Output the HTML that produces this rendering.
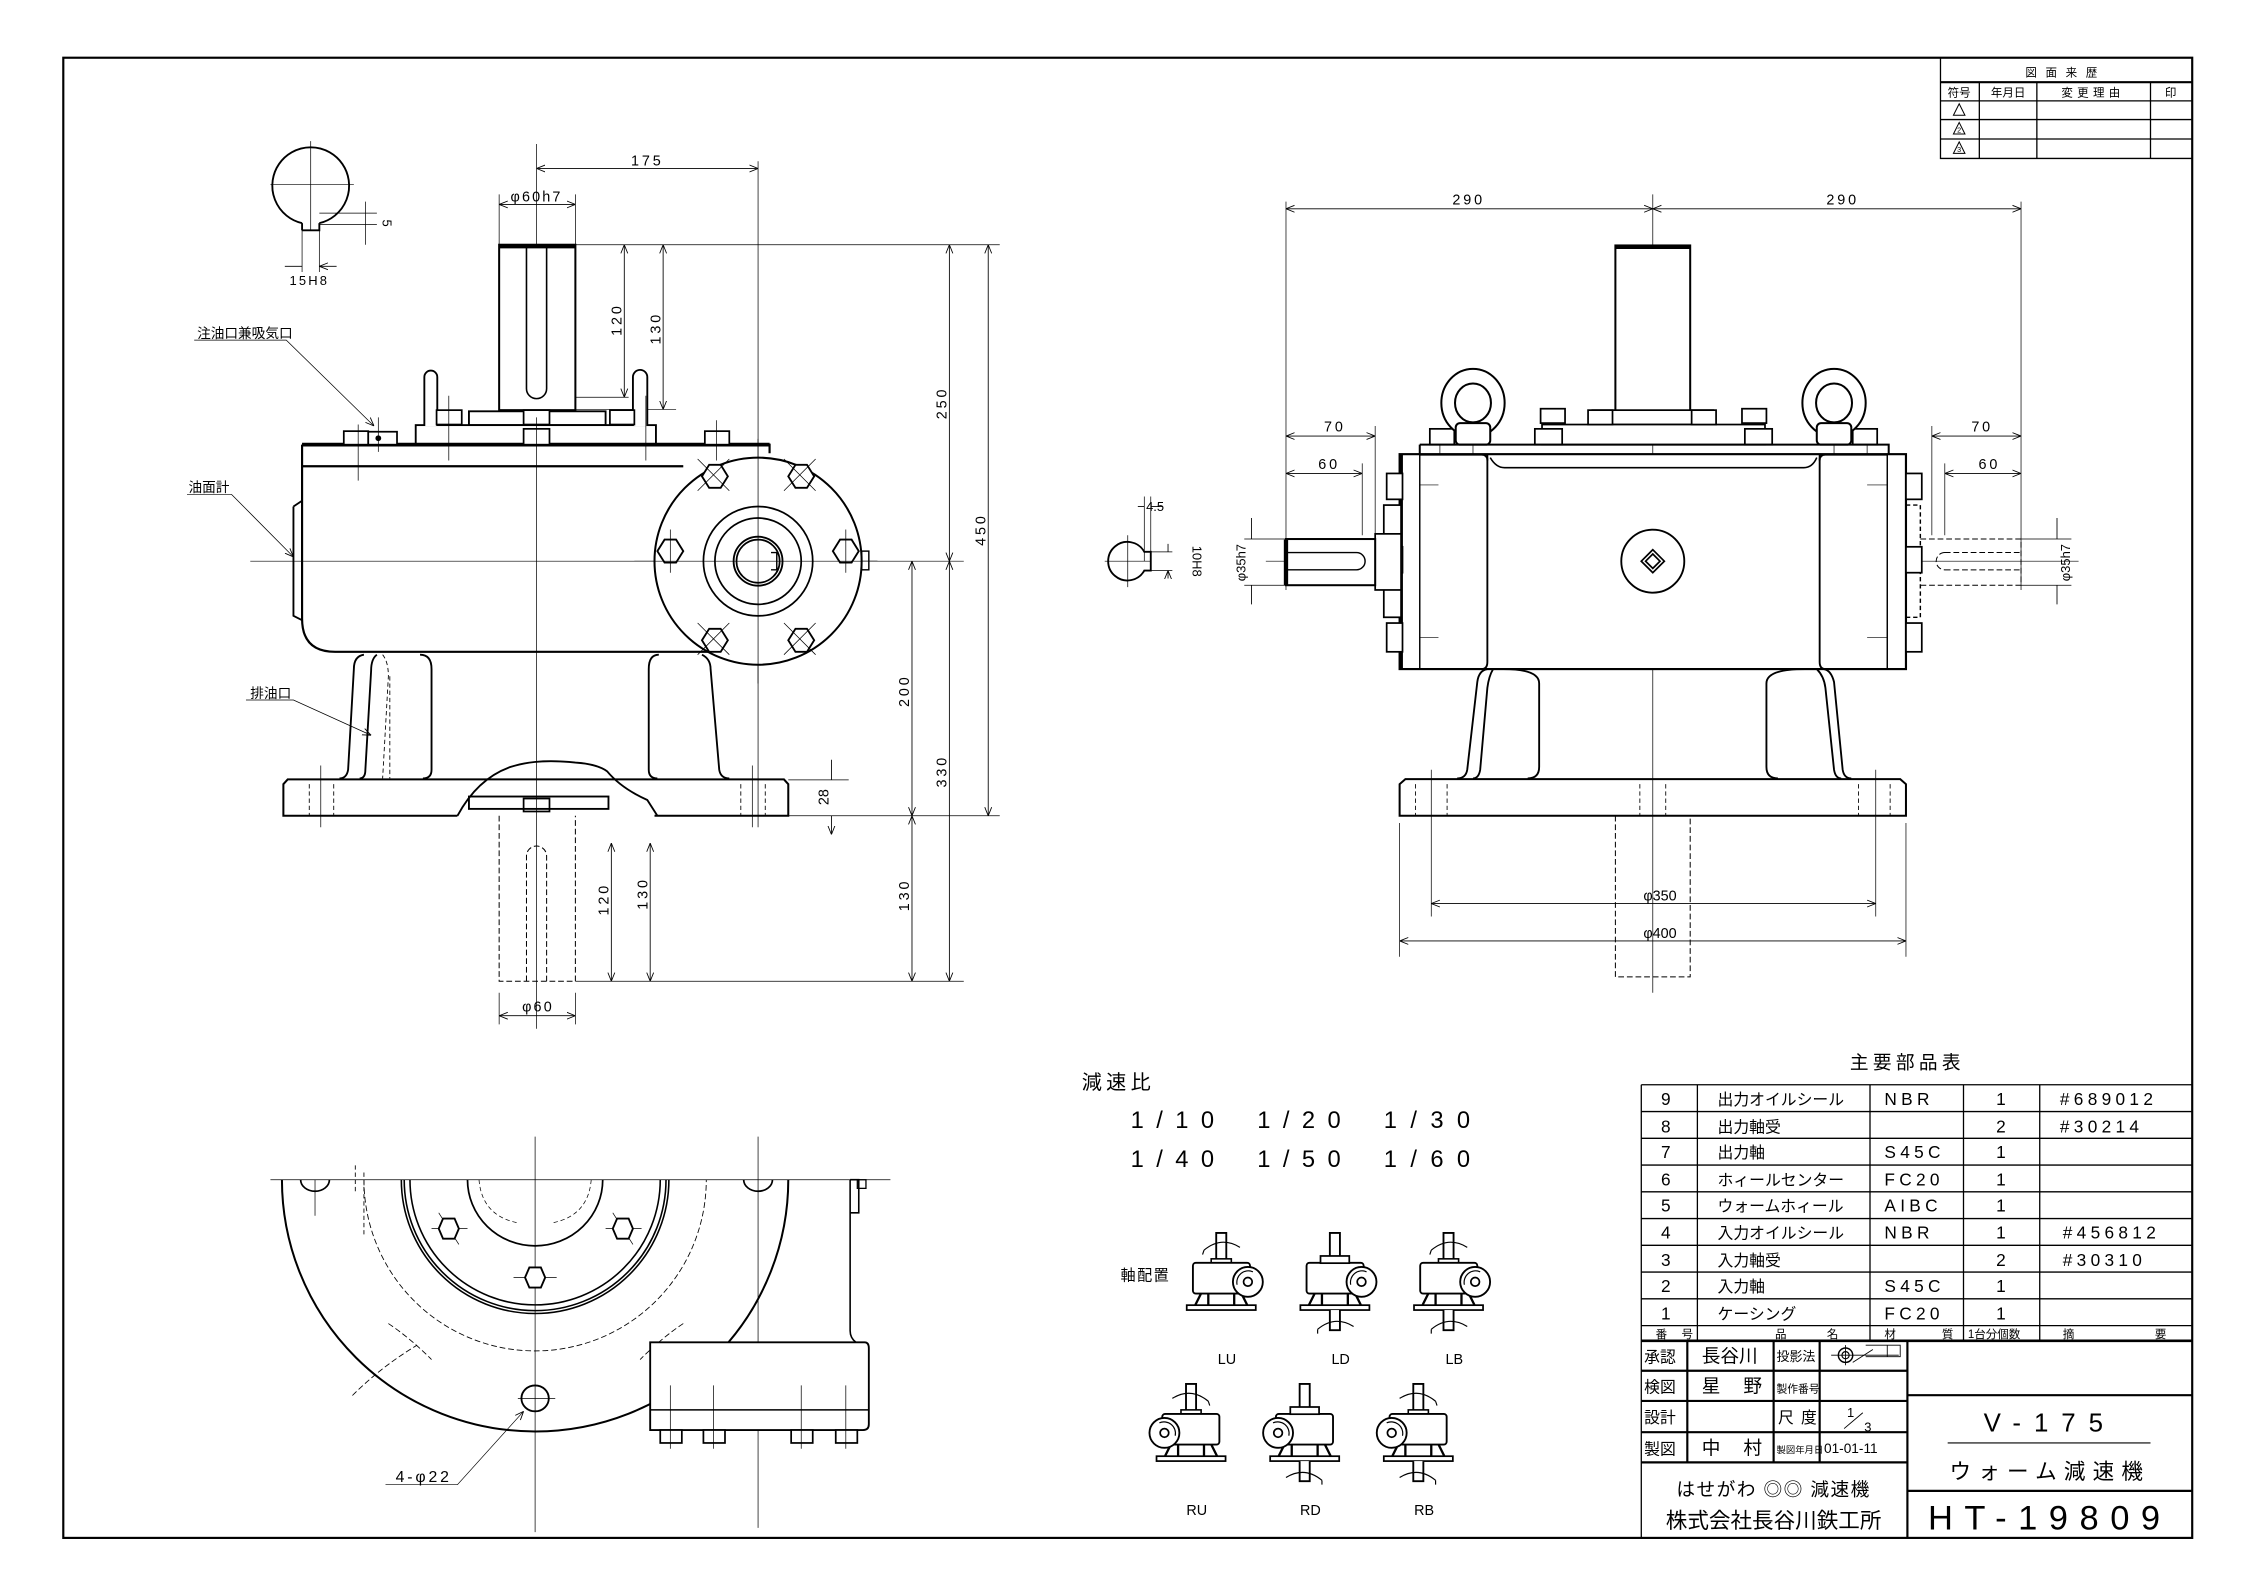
<!DOCTYPE html>
<html><head><meta charset="utf-8">
<style>
html,body{margin:0;padding:0;background:#fff}
svg{display:block}
text{font-family:"Liberation Sans","Noto Sans CJK JP",sans-serif;fill:#000}
</style></head><body>
<svg width="2244" height="1587" viewBox="0 0 1560 1103" xmlns="http://www.w3.org/2000/svg">
<defs>
<marker id="a" viewBox="0 0 10 10" refX="10" refY="5" markerWidth="6" markerHeight="6" orient="auto-start-reverse" markerUnits="userSpaceOnUse">
<path d="M0,1 L10,5 L0,9" fill="none" stroke="#000" stroke-width="1"/></marker>
<g id="ic">
 <path d="M-3.5,-13 V-34 H3.5 V-13" fill="#fff" stroke="#000" stroke-width="1.3"/>
 <rect x="-7" y="-16" width="14" height="3" fill="#fff" stroke="#000" stroke-width="1.1"/>
 <rect x="-19.7" y="-13.2" width="39.7" height="21.3" rx="2" fill="#fff" stroke="#000" stroke-width="1.3"/>
 <path d="M-14,8 L-18,16 M14,8 L18,16 M-9,8 V16 M9,8 V16" stroke="#000" stroke-width="1.6"/>
 <rect x="-24" y="16.2" width="48" height="3.4" fill="#fff" stroke="#000" stroke-width="1.2"/>
 <circle cx="18.5" cy="0" r="10.4" fill="#fff" stroke="#000" stroke-width="1.3"/>
 <path d="M11,2 A8,8 0 0 1 22,-7" fill="none" stroke="#000" stroke-width="0.8"/>
 <circle cx="18.5" cy="0" r="3" fill="none" stroke="#000" stroke-width="1.2"/>
</g>
<g id="icU"><path d="M-12,-22 Q0,-32 13,-24 M-12,-22 l-1,3" fill="none" stroke="#000" stroke-width="0.8"/></g>
<g id="icD"><path d="M-3.5,19.6 V33.6 H3.5 V19.6" fill="#fff" stroke="#000" stroke-width="1.3"/><path d="M-12,33 Q0,23 13,31 M-12,33 l0,3" fill="none" stroke="#000" stroke-width="0.8"/></g>
<g id="icT"><rect x="-10" y="-18" width="20" height="5" fill="#fff" stroke="#000" stroke-width="1.2"/></g>
</defs>
<rect width="1560" height="1103" fill="#fff"/>
<g fill="none" stroke="#000">
<rect x="44" y="40" width="1480" height="1029" stroke-width="1.5"/>
<path d="M1349,40 V110 H1524 M1349,57 H1524 M1349,70 H1524 M1349,83 H1524 M1349,96.5 H1524 M1376,57 V110 M1416,57 V110 M1495,57 V110" stroke-width="0.9"/>
<path d="M1349,57 H1524" stroke-width="1.4"/>
<path d="M1358,80 l4,-8 l4,8z M1358,93 l4,-8 l4,8z M1358,106.5 l4,-8 l4,8z" stroke-width="0.7"/>

<!-- FRONT VIEW -->
<g stroke-width="0.5">
<path d="M373,100 V715 M174,390 H610 M527,112 V575 M216,98 V160 M188,128 H246"/>
<path d="M400,170 H695 M536,390 H670 M548,567 H695 M400,682 H670 M548,542 H590"/>
<path d="M347,135 V170 M400,135 V170 M400,276 H437 M400,284.5 H470 M347,690 V712 M400,690 V712"/>
<path d="M210,160 V189 M222,160 V189 M222,148 H262 M222,156 H262 M254,140 V170"/>
</g>
<g stroke-width="0.6" marker-start="url(#a)" marker-end="url(#a)">
<path d="M373,117 H527"/><path d="M347,142 H400"/><path d="M434,170 V276"/><path d="M461,170 V284.5"/>
<path d="M660,170 V390"/><path d="M687,170 V567"/><path d="M634,390 V567"/><path d="M660,390 V682"/><path d="M634,567 V682"/>
<path d="M425,586 V682"/><path d="M452,586 V682"/><path d="M347,706 H400"/>
</g>
<path d="M578,528 V542 M578,567 V580" stroke-width="0.6" marker-end="url(#a)"/>
<path d="M198,185 H210 M234,185 H222" stroke-width="0.6" marker-end="url(#a)"/>
<path d="M210,155 A26.7,26.7 0 1 1 222,155 M210,155 V160 M222,155 V160 H210" stroke-width="1.3"/>
<rect x="347" y="170" width="53" height="115" fill="#fff" stroke-width="1.4"/>
<path d="M347,171 H400" stroke-width="3"/>
<path d="M366,170 V270 A7,7 0 0 0 380,270 V170" stroke-width="1.1"/>
<rect x="326" y="285.8" width="95" height="9.6" fill="#fff" stroke-width="1.3"/>
<rect x="289" y="295.4" width="167" height="13.6" fill="#fff" stroke-width="1.3"/>
<path d="M295,296 V262 A4.5,4.5 0 0 1 304,262 V296 M440,296 V262 A5,5 0 0 1 450,262 V296" fill="#fff" stroke-width="1.3"/>
<path d="M210,309 H535 V315 M210,324 H475" stroke-width="1.5"/>
<path d="M210,309 V430 Q210,453 233,453 H500" stroke-width="1.5"/>
<path d="M210,309 H535" stroke-width="2.6"/>
<path d="M204,352 L210,348 M204,352 V428 L210,431" stroke-width="1.3"/>
<g fill="#fff" stroke-width="1.2">
<rect x="239" y="299.6" width="17" height="9.4"/><rect x="256" y="300" width="20" height="9"/>
<rect x="490" y="299.6" width="17" height="9.4"/>
<rect x="364" y="298" width="18" height="11"/><rect x="364" y="285" width="18" height="10"/>
<rect x="303.5" y="285" width="17.5" height="10"/><rect x="424" y="285" width="17" height="10"/>
</g>
<circle cx="263" cy="304.5" r="2" fill="#000" stroke="none"/>
<g stroke-width="0.5"><path d="M249,295 V334 M263,290 V314 M312,275 V320 M449,275 V320 M373,290 V310 M498,292 V320"/></g>
<circle cx="527" cy="390" r="72" fill="#fff" stroke-width="1.4"/>
<circle cx="527" cy="390" r="38" stroke-width="1.2"/>
<circle cx="527" cy="390" r="30" stroke-width="1.2"/>
<circle cx="527" cy="390" r="17" stroke-width="1.3"/>
<circle cx="527" cy="390" r="15" stroke-width="1.2"/>
<path d="M536,384 h4 v12 h-4" stroke-width="1"/>
<rect x="599" y="383" width="5" height="13" stroke-width="1"/>
<g stroke-width="1.3" fill="#fff">
<path d="M457,383 l5,-8 h8 l5,8 l-5,8 h-8z"/><path d="M579,383 l5,-8 h8 l5,8 l-5,8 h-8z"/>
<path d="M488,331 l5,-8 h8 l5,8 l-5,8 h-8z"/><path d="M548,331 l5,-8 h8 l5,8 l-5,8 h-8z"/>
<path d="M488,445 l5,-8 h8 l5,8 l-5,8 h-8z"/><path d="M548,445 l5,-8 h8 l5,8 l-5,8 h-8z"/>
</g>
<g stroke-width="0.5"><path d="M527,305 V475 M441,390 H610 M466,368 V398 M588,368 V398 M485,319 l22,22 M507,319 l-22,22 M545,319 l22,22 M567,319 l-22,22 M485,433 l22,22 M507,433 l-22,22 M545,433 l22,22 M567,433 l-22,22"/></g>
<g stroke-width="1.3">
<path d="M253,455 Q246,456 246,465 L242,535 Q241,541 236,541"/>
<path d="M262,455 Q258,458 258,466 L254,535 Q254,541 250,541"/>
<path d="M292,455 Q300,455 300,465 V535 Q300,541 294,541"/>
<path d="M458,455 Q451,455 451,465 V535 Q451,541 457,541"/>
<path d="M488,455 Q494,458 494,465 L500,535 Q501,541 507,541"/>
</g>
<path d="M266,455 Q270,460 270,470 L266,541 M271,470 V541" stroke-width="0.6" stroke-dasharray="3,2"/>
<path d="M318,567 H197 V545 L200,541.7 H545 L548,545 V567 H455" stroke-width="1.4"/>
<path d="M318,567 Q332,541 355,533 Q373,527 400,530 Q415,531 422,536 Q432,548 450,556 L457,567" stroke-width="1.3"/>
<rect x="326" y="553.6" width="97" height="8.6" stroke-width="1.3"/>
<rect x="364" y="555" width="18" height="9" stroke-width="1.2"/>
<path d="M215,545 V567 M232,545 V567 M515,545 V567 M532,545 V567" stroke-width="0.6" stroke-dasharray="3,2"/>
<path d="M223,532 V575 M523,532 V575" stroke-width="0.5"/>
<path d="M347,567 V682 H400 V567 M366,682 V595 A7,7 0 0 1 380,595 V682" stroke-width="0.7" stroke-dasharray="4,2"/>
<g stroke-width="0.5">
<path d="M135,236.3 H199 L260,296" marker-end="url(#a)"/>
<path d="M130,343.6 H161 L204,387" marker-end="url(#a)"/>
<path d="M171,486.5 H204 L258,511" marker-end="url(#a)"/>
</g>

<!-- RIGHT VIEW -->
<g stroke-width="0.5">
<path d="M1149,135 V690 M880,390 H1445 M894,140 V410 M1405,140 V410 M956,296 V372 M947,322 V372 M1343,296 V372 M1352,322 V372"/>
<path d="M865,374.6 H894 M865,406.7 H894 M1405,374.6 H1440 M1405,406.7 H1440"/>
<path d="M973,572 V665 M1325,572 V665 M995,535 V637 M1304,535 V637 M784,372 V408 M768,390 H800"/>
<path d="M1024,295 V330 M1275,295 V330 M1001,300 V330 M1298,300 V330"/>
</g>
<g stroke-width="0.6" marker-start="url(#a)" marker-end="url(#a)">
<path d="M894,145 H1149"/><path d="M1149,145 H1405"/>
<path d="M894,303 H956"/><path d="M894,329 H947"/><path d="M1343,303 H1405"/><path d="M1352,329 H1405"/>
<path d="M995,628 H1304"/><path d="M973,654 H1325"/>
</g>
<path d="M870,360 V374.6 M870,420 V406.7 M1430,360 V374.6 M1430,420 V406.7 M791,352 H795.5 M808,352 H800 M812,378 V383.5 M812,402 V396.5" stroke-width="0.6" marker-end="url(#a)"/>
<path d="M795.5,345 V390 M800,345 V383.5 M800,383.5 H815 M800,396.5 H815" stroke-width="0.5"/>
<path d="M795.5,383.5 A13.4,13.4 0 1 0 795.5,396.5 H800 V383.5 Z" stroke-width="1.3"/>
<rect x="1123" y="170.5" width="52" height="115" fill="#fff" stroke-width="1.4"/>
<path d="M1123,171.5 H1175" stroke-width="3"/>
<rect x="1107" y="285" width="84" height="10" fill="#fff" stroke-width="1.2"/>
<rect x="1072" y="295" width="155" height="14" fill="#fff" stroke-width="1.2"/>
<g fill="#fff" stroke-width="1.2">
<rect x="1071" y="284" width="17" height="10"/><rect x="1104" y="285" width="17" height="10"/><rect x="1176" y="285" width="17" height="10"/><rect x="1211" y="284" width="17" height="10"/>
<rect x="1067" y="298" width="19" height="11"/><rect x="1213" y="298" width="19" height="11"/>
<rect x="994" y="298" width="17" height="11"/><rect x="1288" y="298" width="17" height="11"/>
</g>
<g stroke-width="1.4" fill="#fff">
<ellipse cx="1024" cy="280" rx="22" ry="23.7"/><ellipse cx="1024" cy="280" rx="12.5" ry="13.5"/>
<ellipse cx="1275" cy="280" rx="22" ry="23.7"/><ellipse cx="1275" cy="280" rx="12.5" ry="13.5"/>
<rect x="1012" y="294" width="24" height="15" rx="3"/><rect x="1263" y="294" width="24" height="15" rx="3"/>
</g>
<rect x="973" y="315.6" width="352" height="149.4" fill="#fff" stroke-width="1.5"/>
<path d="M987,309 H1313 V315.6 M987,309 V315.6" stroke-width="1.4"/>
<path d="M987,315.6 V465 M1312,315.6 V465" stroke-width="1"/>
<path d="M1034,315.6 V460 Q1034,465 1030,465 M1265,315.6 V460 Q1265,465 1269,465" stroke-width="1.3"/>
<path d="M987,316 H1030 Q1034,316 1034,320 M1312,316 H1269 Q1265,316 1265,320" stroke-width="1.3"/>
<path d="M1036,318 Q1040,325 1046,325 H1254 Q1260,325 1263,318" stroke-width="1.1"/>
<path d="M974,315.6 V465" stroke-width="2.6"/>
<rect x="962" y="351" width="12" height="78" fill="#fff" stroke-width="1.2"/>
<rect x="1325" y="351" width="10" height="78" fill="none" stroke-width="1" stroke-dasharray="3,2"/>
<g fill="#fff" stroke-width="1.2">
<rect x="964" y="329" width="11" height="18"/><rect x="964" y="380" width="11" height="18"/><rect x="964" y="433" width="11" height="20"/>
<rect x="1325" y="329" width="11" height="18"/><rect x="1325" y="380" width="11" height="18"/><rect x="1325" y="433" width="11" height="20"/>
</g>
<path d="M987,337 H1000 M987,443 H1000 M1298,337 H1312 M1298,443 H1312" stroke-width="0.5"/>
<rect x="956" y="371" width="18" height="39" fill="#fff" stroke-width="1.2"/>
<rect x="894" y="374.6" width="62" height="32.1" fill="#fff" stroke-width="1.4"/>
<path d="M894,375 V406.7" stroke-width="3"/>
<path d="M894,384 H943 A6,6 0 0 1 943,396 H894" stroke-width="1"/>
<path d="M1335,374.6 H1405 V406.7 H1335 M1352,384 H1405 M1352,396 H1405 M1352,384 A6,6 0 0 0 1352,396" stroke-width="0.7" stroke-dasharray="4,2"/>
<circle cx="1149" cy="390" r="21.9" fill="#fff" stroke-width="1.3"/>
<path d="M1149,382 l8,8 l-8,8 l-8,-8z M1149,385 l5,5 l-5,5 l-5,-5z" stroke-width="1.2"/>
<g stroke-width="1.3">
<path d="M1034,465 Q1028,466 1027,474 L1020,535 Q1019,541 1013,541"/>
<path d="M1038,465 Q1035,470 1034,478 L1029,535 Q1028,541 1024,541"/>
<path d="M1045,465 Q1070,465 1070,475 V533 Q1070,541 1062,541"/>
<path d="M1255,465 Q1228,465 1228,475 V533 Q1228,541 1236,541"/>
<path d="M1263,465 Q1268,470 1269,478 L1275,535 Q1276,541 1280,541"/>
<path d="M1268,465 Q1273,466 1275,474 L1281,535 Q1282,541 1287,541"/>
</g>
<path d="M973,567 V545 L977,541.5 H1321 L1325,545 V567 Z" stroke-width="1.4"/>
<path d="M984,545 V567 M1006,545 V567 M1140,545 V567 M1158,545 V567 M1292,545 V567 M1314,545 V567" stroke-width="0.6" stroke-dasharray="3,2"/>
<path d="M1123,567 V679 H1175 V567" stroke-width="0.7" stroke-dasharray="4,2"/>

<!-- PLAN VIEW -->
<g stroke-width="0.5"><path d="M188,820 H619 M372,790 V1065 M527,790 V1062 M219,820 V845"/>
<path d="M360,972 H386 M357,888 H387 M300,854 H325 M421,854 H446 M305,843 l14,22 M426,843 l14,22"/></g>
<path d="M196,820 A176,175 0 0 0 548,820" stroke-width="1.4"/>
<path d="M281,820 A91,91 0 0 0 463,820 M285,820 A87,87 0 0 0 459,820 M279,820 A93,93 0 0 0 465,820" stroke-width="1.1"/>
<path d="M325,820 A47,46 0 0 0 419,820" stroke-width="1.2"/>
<path d="M333,820 Q335,845 360,850 M411,820 Q409,845 384,850" stroke-width="0.5" stroke-dasharray="3,2"/>
<path d="M253,820 A119,119 0 0 0 491,820" stroke-width="0.6" stroke-dasharray="4,2"/>
<path d="M270,920 Q285,930 300,945 M475,920 Q460,930 445,945 M245,970 Q265,950 290,935 M500,970 Q480,950 455,935" stroke-width="0.6" stroke-dasharray="4,2"/>
<path d="M253,815 V860 M247,810 V830" stroke-width="0.6" stroke-dasharray="3,2"/>
<g stroke-width="1.3" fill="#fff">
<path d="M305,854 l3,-7 h8 l3,7 l-3,7 h-8z"/><path d="M426,854 l3,-7 h8 l3,7 l-3,7 h-8z"/><path d="M365,888 l3,-7 h8 l3,7 l-3,7 h-8z"/>
</g>
<ellipse cx="372" cy="972" rx="9.5" ry="9" stroke-width="1.3"/>
<path d="M209,820 A10,8 0 0 0 229,820 M517,820 A10,8 0 0 0 537,820" stroke-width="1.2"/>
<path d="M452,994 V933 H601 Q604,933 604,937 V990 Q604,994 600,994 Z" fill="#fff" stroke-width="1.3"/>
<path d="M452,980 H604" stroke-width="1.1"/>
<path d="M591,820 V925 Q591,930 595,933 M591,820 H597 V843 H591" stroke-width="1.1"/>
<rect x="596" y="820" width="6" height="6" stroke-width="0.9"/>
<g fill="#fff" stroke-width="1.2"><rect x="459" y="994" width="15" height="9"/><rect x="489" y="994" width="15" height="9"/><rect x="550" y="994" width="15" height="9"/><rect x="581" y="994" width="15" height="9"/></g>
<path d="M466,963 V1007 M496,963 V1007 M557,963 V1007 M588,963 V1007" stroke-width="0.5"/>
<path d="M268,1032 H318 L364,981" stroke-width="0.5" marker-end="url(#a)"/>

<!-- PARTS TABLE -->
<g stroke-width="0.9">
<path d="M1141,754 H1524 M1141,754 V1069 M1524,754 V1069"/>
<path d="M1141,772.6 H1524 M1141,791.2 H1524 M1141,809.8 H1524 M1141,828.4 H1524 M1141,847 H1524 M1141,865.6 H1524 M1141,884.2 H1524 M1141,902.8 H1524 M1141,921.4 H1524"/>
<path d="M1180,754 V932 M1300,754 V932 M1365,754 V932 M1418,754 V932"/>
</g>
<path d="M1141,932 H1524" stroke-width="1.8"/>
<g stroke-width="1.5">
<path d="M1326,932 V1069 M1326,969.8 H1524 M1326,1036.3 H1524 M1141,1016.5 H1326"/>
<path d="M1173,932 V1016.5 M1233,932 V1016.5 M1265,932 V1016.5 M1141,952.8 H1326 M1141,973.8 H1326 M1141,995.5 H1326"/>
</g>
<path d="M1354,1003 H1495" stroke-width="0.8"/>
<path d="M1288,947 l14,-9 M1297,943 h24 v-8 h-24 M1312,935 v8" stroke-width="0.6"/>
<circle cx="1283" cy="942" r="5" stroke-width="1"/><circle cx="1283" cy="942" r="2.5" stroke-width="0.8"/>
<path d="M1273,942 H1320 M1283,935 V949" stroke-width="0.6"/>
<path d="M1282,993 L1295,982" stroke-width="0.6"/>
</g>

<!-- TEXT -->
<g font-size="10" text-anchor="middle">
<text x="450" y="115" letter-spacing="2">175</text>
<text x="373" y="140" letter-spacing="1.5">φ60h7</text>
<text x="215" y="198" letter-spacing="1.5" font-size="9">15H8</text>
<text transform="translate(266,155) rotate(90)" font-size="9">5</text>
<text transform="translate(432,222) rotate(-90)" letter-spacing="2">120</text>
<text transform="translate(459,228) rotate(-90)" letter-spacing="2">130</text>
<text transform="translate(658,280) rotate(-90)" letter-spacing="2">250</text>
<text transform="translate(685,368) rotate(-90)" letter-spacing="2">450</text>
<text transform="translate(632,480) rotate(-90)" letter-spacing="2">200</text>
<text transform="translate(658,536) rotate(-90)" letter-spacing="2">330</text>
<text transform="translate(632,622) rotate(-90)" letter-spacing="2">130</text>
<text transform="translate(576,554) rotate(-90)">28</text>
<text transform="translate(423,625) rotate(-90)" letter-spacing="2">120</text>
<text transform="translate(450,621) rotate(-90)" letter-spacing="2">130</text>
<text x="374" y="703" letter-spacing="1.5">φ60</text>
<text x="1021" y="142" letter-spacing="2">290</text>
<text x="1281" y="142" letter-spacing="2">290</text>
<text x="928" y="300" letter-spacing="2">70</text>
<text x="924" y="326" letter-spacing="2">60</text>
<text x="1378" y="300" letter-spacing="2">70</text>
<text x="1383" y="326" letter-spacing="2">60</text>
<text x="1154" y="626">φ350</text>
<text x="1154" y="652">φ400</text>
<text x="803" y="355" font-size="9">4.5</text>
<text transform="translate(829,390) rotate(90)" font-size="9">10H8</text>
<text transform="translate(866,391) rotate(-90)" font-size="9">φ35h7</text>
<text transform="translate(1439,391) rotate(-90)" font-size="9">φ35h7</text>
</g>
<g font-size="9.5">
<text x="137" y="235">注油口兼吸気口</text>
<text x="131" y="342">油面計</text>
<text x="174" y="485">排油口</text>
<text x="275" y="1030" font-size="11" letter-spacing="2">4-φ22</text>
</g>
<text x="752" y="757" font-size="14" letter-spacing="3">減速比</text>
<g font-size="16.5">
<text x="786" y="784" textLength="58" lengthAdjust="spacing">1/10</text>
<text x="874" y="784" textLength="58" lengthAdjust="spacing">1/20</text>
<text x="962" y="784" textLength="60" lengthAdjust="spacing">1/30</text>
<text x="786" y="811" textLength="58" lengthAdjust="spacing">1/40</text>
<text x="874" y="811" textLength="58" lengthAdjust="spacing">1/50</text>
<text x="962" y="811" textLength="60" lengthAdjust="spacing">1/60</text>
</g>
<text x="779" y="890" font-size="10.5" letter-spacing="1">軸配置</text>
<g transform="translate(849,891)"><use href="#ic"/><use href="#icU"/></g>
<g transform="translate(928,891)"><use href="#ic"/><use href="#icT"/><use href="#icD"/></g>
<g transform="translate(1007,891)"><use href="#ic"/><use href="#icU"/><use href="#icD"/></g>
<g transform="translate(828,996) scale(-1,1)"><use href="#ic"/><use href="#icU"/></g>
<g transform="translate(907,996) scale(-1,1)"><use href="#ic"/><use href="#icT"/><use href="#icD"/></g>
<g transform="translate(986,996) scale(-1,1)"><use href="#ic"/><use href="#icU"/><use href="#icD"/></g>
<g font-size="10" text-anchor="middle">
<text x="853" y="948">LU</text><text x="932" y="948">LD</text><text x="1011" y="948">LB</text>
<text x="832" y="1053">RU</text><text x="911" y="1053">RD</text><text x="990" y="1053">RB</text>
</g>
<g font-size="8" text-anchor="middle">
<text x="1436" y="53" letter-spacing="6">図面来歴</text>
<text x="1362" y="67">符号</text><text x="1396" y="67">年月日</text><text x="1455" y="67" letter-spacing="3">変更理由</text><text x="1509" y="67">印</text>
</g>
<g font-size="5" text-anchor="middle"><text x="1362" y="92">2</text><text x="1362" y="105.5">3</text></g>
<text x="1326" y="743" font-size="13" text-anchor="middle" letter-spacing="3">主要部品表</text>
<g font-size="12">
<g text-anchor="middle">
<text x="1158" y="768">9</text><text x="1158" y="787">8</text><text x="1158" y="805">7</text><text x="1158" y="824">6</text><text x="1158" y="842">5</text><text x="1158" y="861">4</text><text x="1158" y="880">3</text><text x="1158" y="898">2</text><text x="1158" y="917">1</text>
<text x="1391" y="768">1</text><text x="1391" y="787">2</text><text x="1391" y="805">1</text><text x="1391" y="824">1</text><text x="1391" y="842">1</text><text x="1391" y="861">1</text><text x="1391" y="880">2</text><text x="1391" y="898">1</text><text x="1391" y="917">1</text>
</g>
<g font-size="11">
<text x="1194" y="768">出力オイルシール</text><text x="1194" y="787">出力軸受</text><text x="1194" y="805">出力軸</text><text x="1194" y="824">ホィールセンター</text><text x="1194" y="842">ウォームホィール</text><text x="1194" y="861">入力オイルシール</text><text x="1194" y="880">入力軸受</text><text x="1194" y="898">入力軸</text><text x="1194" y="917">ケーシング</text>
</g>
<g letter-spacing="3">
<text x="1310" y="768">NBR</text><text x="1310" y="805">S45C</text><text x="1310" y="824">FC20</text><text x="1310" y="842">AIBC</text><text x="1310" y="861">NBR</text><text x="1310" y="898">S45C</text><text x="1310" y="917">FC20</text>
<text x="1432" y="768">#689012</text><text x="1432" y="787">#30214</text><text x="1434" y="861">#456812</text><text x="1434" y="880">#30310</text>
</g>
</g>
<g font-size="8">
<text x="1151" y="930">番</text><text x="1169" y="930">号</text><text x="1234" y="930">品</text><text x="1270" y="930">名</text><text x="1310" y="930">材</text><text x="1350" y="930">質</text><text x="1368" y="930">1台分個数</text><text x="1434" y="930">摘</text><text x="1498" y="930">要</text>
</g>
<g font-size="11">
<text x="1143" y="947">承認</text><text x="1143" y="968">検図</text><text x="1143" y="989">設計</text><text x="1143" y="1011">製図</text>
<text x="1183" y="947" font-size="13">長谷川</text>
<text x="1183" y="968" font-size="13">星</text><text x="1212" y="968" font-size="13">野</text>
<text x="1183" y="1011" font-size="13">中</text><text x="1212" y="1011" font-size="13">村</text>
<text x="1235" y="946" font-size="9">投影法</text><text x="1235" y="968" font-size="7.5">製作番号</text>
<text x="1236" y="989">尺</text><text x="1252" y="989">度</text>
<text x="1235" y="1010" font-size="6.5">製図年月日</text>
<text x="1268" y="1010" font-size="9.5">01-01-11</text>
<text x="1284" y="985" font-size="9">1</text><text x="1296" y="995" font-size="9">3</text>
</g>
<g text-anchor="middle">
<text x="1425" y="995" font-size="18" letter-spacing="9">V-175</text>
<text x="1425" y="1028" font-size="15" letter-spacing="5">ウォーム減速機</text>
<text x="1425" y="1063" font-size="24" letter-spacing="8">HT-19809</text>
<text x="1233" y="1040" font-size="13" letter-spacing="1">はせがわ ◎◎ 減速機</text>
<text x="1233" y="1062" font-size="15">株式会社長谷川鉄工所</text>
</g>
</svg>
</body></html>
